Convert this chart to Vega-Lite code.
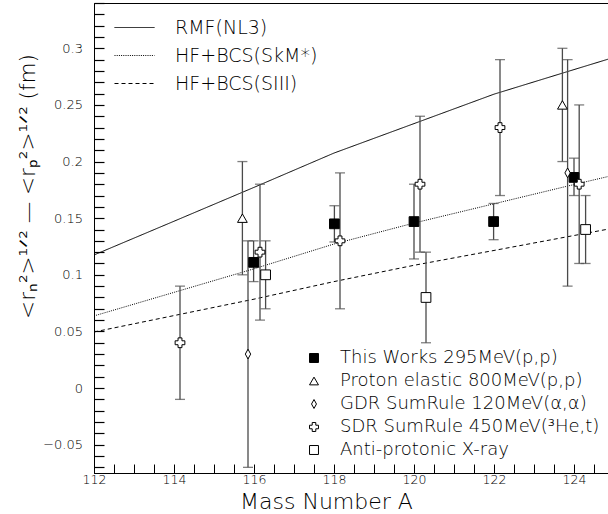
{
  "$schema": "https://vega.github.io/schema/vega-lite/v6.json",
  "width": 520,
  "height": 470,
  "autosize": "none",
  "padding": {"left": 94, "top": 3, "right": -6, "bottom": 41},
  "background": "white",
  "config": {
    "font": "DejaVu Sans",
    "view": {"stroke": "black", "strokeWidth": 1},
    "axis": {"grid": false, "zindex": 1, "ticks": true, "domainColor": "black", "tickColor": "black", "tickWidth": 1, "tickOpacity": 1, "labelColor": "black", "titleColor": "black", "titleFontWeight": 200, "labelFontWeight": 200, "labelFont": "DejaVu Sans", "titleFont": "DejaVu Sans"},
    "legend": {"labelFontWeight": 200, "labelLimit": 400}
  },
  "datasets": {
    "models": [
      {"model": "RMF(NL3)", "A": 112, "v": 0.1175},
      {"model": "RMF(NL3)", "A": 114, "v": 0.1473},
      {"model": "RMF(NL3)", "A": 116, "v": 0.1772},
      {"model": "RMF(NL3)", "A": 118, "v": 0.2075},
      {"model": "RMF(NL3)", "A": 120, "v": 0.2335},
      {"model": "RMF(NL3)", "A": 122, "v": 0.2595},
      {"model": "RMF(NL3)", "A": 124, "v": 0.2812},
      {"model": "RMF(NL3)", "A": 125, "v": 0.292},
      {"model": "HF+BCS(SkM*)", "A": 112, "v": 0.0637},
      {"model": "HF+BCS(SkM*)", "A": 114, "v": 0.0845},
      {"model": "HF+BCS(SkM*)", "A": 116, "v": 0.1053},
      {"model": "HF+BCS(SkM*)", "A": 118, "v": 0.1272},
      {"model": "HF+BCS(SkM*)", "A": 120, "v": 0.1457},
      {"model": "HF+BCS(SkM*)", "A": 122, "v": 0.1627},
      {"model": "HF+BCS(SkM*)", "A": 124, "v": 0.1797},
      {"model": "HF+BCS(SkM*)", "A": 125, "v": 0.188},
      {"model": "HF+BCS(SIII)", "A": 112, "v": 0.0495},
      {"model": "HF+BCS(SIII)", "A": 114, "v": 0.064},
      {"model": "HF+BCS(SIII)", "A": 116, "v": 0.0785},
      {"model": "HF+BCS(SIII)", "A": 118, "v": 0.094},
      {"model": "HF+BCS(SIII)", "A": 120, "v": 0.1084},
      {"model": "HF+BCS(SIII)", "A": 122, "v": 0.1215},
      {"model": "HF+BCS(SIII)", "A": 124, "v": 0.1347},
      {"model": "HF+BCS(SIII)", "A": 125, "v": 0.1413}
    ],
    "points": [
      {"source": "This Works 295MeV(p,p)", "A": 115.99, "v": 0.111, "lo": 0.094, "hi": 0.13},
      {"source": "This Works 295MeV(p,p)", "A": 118.01, "v": 0.145, "lo": 0.129, "hi": 0.161},
      {"source": "This Works 295MeV(p,p)", "A": 120.0, "v": 0.147, "lo": 0.114, "hi": 0.18},
      {"source": "This Works 295MeV(p,p)", "A": 121.99, "v": 0.147, "lo": 0.131, "hi": 0.163},
      {"source": "This Works 295MeV(p,p)", "A": 124.0, "v": 0.186, "lo": 0.17, "hi": 0.203},
      {"source": "Proton elastic 800MeV(p,p)", "A": 115.71, "v": 0.15, "lo": 0.1, "hi": 0.2},
      {"source": "Proton elastic 800MeV(p,p)", "A": 123.71, "v": 0.25, "lo": 0.2, "hi": 0.3},
      {"source": "GDR SumRule 120MeV(α,α)", "A": 115.85, "v": 0.03, "lo": -0.07, "hi": 0.13},
      {"source": "GDR SumRule 120MeV(α,α)", "A": 123.84, "v": 0.19, "lo": 0.09, "hi": 0.29},
      {"source": "SDR SumRule 450MeV(³He,t)", "A": 114.15, "v": 0.04, "lo": -0.01, "hi": 0.09},
      {"source": "SDR SumRule 450MeV(³He,t)", "A": 116.15, "v": 0.12, "lo": 0.06, "hi": 0.18},
      {"source": "SDR SumRule 450MeV(³He,t)", "A": 118.15, "v": 0.13, "lo": 0.07, "hi": 0.19},
      {"source": "SDR SumRule 450MeV(³He,t)", "A": 120.15, "v": 0.18, "lo": 0.12, "hi": 0.24},
      {"source": "SDR SumRule 450MeV(³He,t)", "A": 122.15, "v": 0.23, "lo": 0.17, "hi": 0.29},
      {"source": "SDR SumRule 450MeV(³He,t)", "A": 124.13, "v": 0.18, "lo": 0.11, "hi": 0.25},
      {"source": "Anti-protonic X-ray", "A": 116.29, "v": 0.1, "lo": 0.07, "hi": 0.13},
      {"source": "Anti-protonic X-ray", "A": 120.3, "v": 0.08, "lo": 0.04, "hi": 0.12},
      {"source": "Anti-protonic X-ray", "A": 124.29, "v": 0.14, "lo": 0.11, "hi": 0.17}
    ]
  },
  "layer": [
    {
      "data": {"name": "models"},
      "mark": {"type": "line", "clip": true, "color": "black", "strokeWidth": 1},
      "encoding": {
        "x": {
          "field": "A", "type": "quantitative",
          "scale": {"domain": [112, 125], "nice": false, "zero": false},
          "axis": {
            "title": "Mass Number A",
            "values": [112, 112.5, 113, 113.5, 114, 114.5, 115, 115.5, 116, 116.5, 117, 117.5, 118, 118.5, 119, 119.5, 120, 120.5, 121, 121.5, 122, 122.5, 123, 123.5, 124, 124.5],
            "tickCount": 200,
            "labelExpr": "datum.value % 2 === 0 ? format(datum.value, 'd') : ''",
            "labelOverlap": false,
            "labelFlush": false,
            "ticks": true,
            "tickColor": "black",
            "tickSize": -9,
            "encode": {"ticks": {"update": {"y2": {"signal": "datum.value % 2 === 0 ? -9 : -4.5"}}}},
            "labelFontSize": 12.5,
            "labelPadding": 9,
            "titleFontSize": 22,
            "titleX": 232,
            "titleY": 35,
            "titleAlign": "center",
            "titleBaseline": "alphabetic"
          }
        },
        "y": {
          "field": "v", "type": "quantitative",
          "scale": {"domain": [-0.075, 0.34], "nice": false, "zero": false},
          "axis": {
            "title": "<rₙ²>¹ᐟ² — <rₚ²>¹ᐟ² (fm)",
            "values": [-0.07, -0.06, -0.05, -0.04, -0.03, -0.02, -0.01, 0, 0.01, 0.02, 0.03, 0.04, 0.05, 0.06, 0.07, 0.08, 0.09, 0.1, 0.11, 0.12, 0.13, 0.14, 0.15, 0.16, 0.17, 0.18, 0.19, 0.2, 0.21, 0.22, 0.23, 0.24, 0.25, 0.26, 0.27, 0.28, 0.29, 0.3, 0.31, 0.32, 0.33, 0.34],
            "tickCount": 200,
            "labelExpr": "abs(round(datum.value*100)) % 5 < 0.5 ? format(datum.value, '~g') : ''",
            "labelOverlap": false,
            "labelFlush": false,
            "labelFontSize": 13,
            "ticks": true,
            "tickColor": "black",
            "tickWidth": 1.2,
            "tickSize": -10,
            "encode": {"ticks": {"update": {"x2": {"signal": "abs(round(datum.value*100)) % 5 < 0.5 ? 10 : 5"}}}},
            "labelPadding": 21.5,
            "titleFontSize": 21.5,
            "titleAngle": 270,
            "titleX": -66,
            "titleY": 183,
            "titleAlign": "center",
            "titleBaseline": "middle"
          }
        },
        "strokeDash": {
          "field": "model", "type": "nominal",
          "scale": {"domain": ["RMF(NL3)", "HF+BCS(SkM*)", "HF+BCS(SIII)"], "range": [[1, 0], [1, 1.2], [4, 3]]},
          "legend": {
            "orient": "none", "legendX": 30, "legendY": 14, "title": null,
            "symbolType": "M-2,0H2", "symbolSize": 400, "symbolStrokeWidth": 1, "symbolStrokeColor": "black",
            "labelFontSize": 19, "labelOffset": 30, "rowPadding": 7, "padding": 0, "labelColor": "black"
          }
        }
      }
    },
    {
      "data": {"name": "points"},
      "mark": {"type": "rule", "color": "#4a4a4a", "strokeWidth": 1.3},
      "encoding": {
        "x": {"field": "A", "type": "quantitative"},
        "y": {"field": "lo", "type": "quantitative"},
        "y2": {"field": "hi"}
      }
    },
    {
      "data": {"name": "points"},
      "transform": [{"fold": ["lo", "hi"], "as": ["end", "ev"]}],
      "mark": {"type": "tick", "orient": "horizontal", "color": "#4a4a4a", "size": 10, "thickness": 1.3},
      "encoding": {
        "x": {"field": "A", "type": "quantitative"},
        "y": {"field": "ev", "type": "quantitative"}
      }
    },
    {
      "data": {"name": "points"},
      "mark": {"type": "point", "filled": false, "strokeWidth": 1, "opacity": 1, "size": 95},
      "encoding": {
        "x": {"field": "A", "type": "quantitative"},
        "y": {"field": "v", "type": "quantitative"},
        "shape": {
          "field": "source", "type": "nominal",
          "scale": {
            "domain": ["This Works 295MeV(p,p)", "Proton elastic 800MeV(p,p)", "GDR SumRule 120MeV(α,α)", "SDR SumRule 450MeV(³He,t)", "Anti-protonic X-ray"],
            "range": ["square", "triangle-up", "M0,-1L0.55,0L0,1L-0.55,0Z", "cross", "square"]
          },
          "legend": {
            "orient": "none", "legendX": 211, "legendY": 346, "title": null,
            "symbolSize": 80, "symbolStrokeColor": "black", "symbolStrokeWidth": 1,
            "labelFontSize": 18, "labelOffset": 17, "rowPadding": 5, "padding": 0, "labelColor": "black",
            "encode": {"symbols": {"update": {"stroke": {"value": "black"}, "strokeWidth": {"value": 1}, "strokeOpacity": {"value": 1}}}}
          }
        },
        "stroke": {
          "field": "source", "type": "nominal",
          "scale": {
            "domain": ["This Works 295MeV(p,p)", "Proton elastic 800MeV(p,p)", "GDR SumRule 120MeV(α,α)", "SDR SumRule 450MeV(³He,t)", "Anti-protonic X-ray"],
            "range": ["black", "black", "black", "black", "black"]
          },
          "legend": {
            "orient": "none", "legendX": 211, "legendY": 346, "title": null,
            "symbolSize": 80, "symbolStrokeWidth": 1,
            "labelFontSize": 18, "labelOffset": 17, "rowPadding": 5, "padding": 0, "labelColor": "black",
            "encode": {"symbols": {"update": {"stroke": {"value": "black"}, "strokeWidth": {"value": 1}, "strokeOpacity": {"value": 1}}}}
          }
        },
        "fill": {
          "field": "source", "type": "nominal",
          "scale": {
            "domain": ["This Works 295MeV(p,p)", "Proton elastic 800MeV(p,p)", "GDR SumRule 120MeV(α,α)", "SDR SumRule 450MeV(³He,t)", "Anti-protonic X-ray"],
            "range": ["black", "white", "white", "white", "white"]
          },
          "legend": {
            "orient": "none", "legendX": 211, "legendY": 346, "title": null,
            "symbolSize": 80, "symbolStrokeWidth": 1,
            "labelFontSize": 18, "labelOffset": 17, "rowPadding": 5, "padding": 0, "labelColor": "black",
            "encode": {"symbols": {"update": {"stroke": {"value": "black"}, "strokeWidth": {"value": 1}, "strokeOpacity": {"value": 1}}}}
          }
        }
      }
    }
  ]
}
